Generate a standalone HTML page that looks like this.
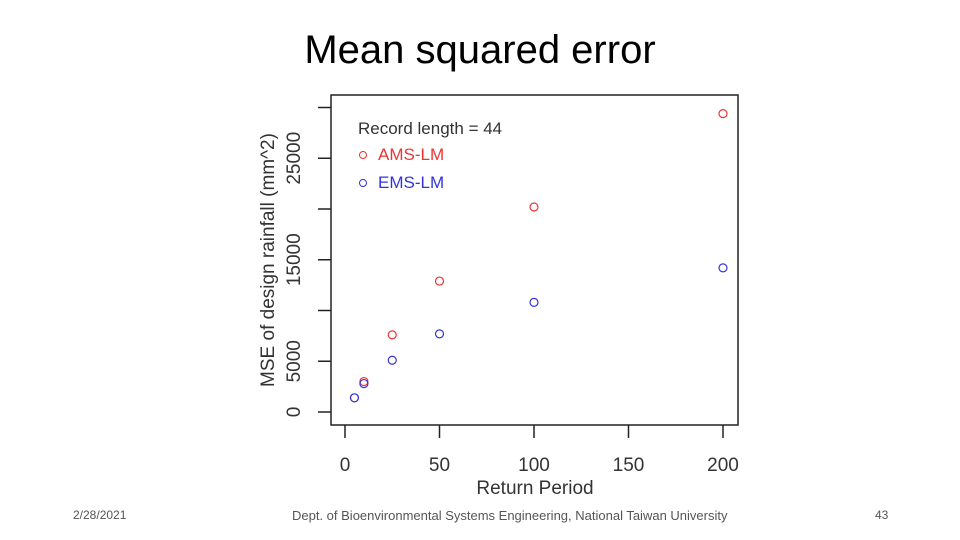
<!DOCTYPE html>
<html><head><meta charset="utf-8"><style>
body{margin:0;width:960px;height:540px;background:#fff;overflow:hidden;font-family:"Liberation Sans",sans-serif;position:relative}
.t{position:absolute;white-space:nowrap}
</style></head><body>
<div class="t" style="left:0;width:960px;text-align:center;top:28px;font-size:40px;color:#000">Mean squared error</div>
<svg width="960" height="540" style="position:absolute;left:0;top:0" font-family="Liberation Sans, sans-serif">
<rect x="331" y="95" width="407" height="330" fill="none" stroke="#222" stroke-width="1.5"/>
<g id="axes"></g><g id="pts"></g>
<text x="358" y="134" font-size="17" fill="#333">Record length =  44</text>
<circle cx="363" cy="155" r="3.5" fill="none" stroke="#e33"/>
<text x="378" y="160" font-size="17" fill="#e33">AMS-LM</text>
<circle cx="363" cy="183" r="3.5" fill="none" stroke="#33d"/>
<text x="378" y="188" font-size="17" fill="#33d">EMS-LM</text>
<text x="535" y="494" text-anchor="middle" font-size="19" fill="#333">Return Period</text>
<text transform="translate(274,260) rotate(-90)" text-anchor="middle" font-size="19" fill="#333">MSE of design rainfall (mm^2)</text>
</svg>
<div class="t" style="left:73px;top:508px;font-size:12px;color:#555">2/28/2021</div>
<div class="t" style="left:292px;top:508px;font-size:13px;color:#555">Dept. of Bioenvironmental Systems Engineering, National Taiwan University</div>
<div class="t" style="left:875px;top:508px;font-size:12px;color:#555">43</div>
<script>
const xTicks=[0,50,100,150,200];
const yTicks=[0,5000,10000,15000,20000,25000,30000];
const yLabels=["0","5000","","15000","","25000",""];
const periods=[5,10,25,50,100,200];
const ams=[1400,3000,7600,12900,20200,29400];
const ems=[1400,2800,5100,7700,10800,14200];
const X=v=>345+v*1.89, Y=v=>412-v*0.01015;
const NS="http://www.w3.org/2000/svg";
const ax=document.getElementById('axes'), pg=document.getElementById('pts');
function mk(tag,at,par){const e=document.createElementNS(NS,tag);for(const k in at)e.setAttribute(k,at[k]);par.appendChild(e);return e;}
xTicks.forEach(v=>{
 const l=mk('line',{x1:X(v),x2:X(v),y1:425,y2:438,stroke:'#222','stroke-width':1.5},ax);
 
 
 const t=mk('text',{x:X(v),y:471,'text-anchor':'middle','font-size':19,fill:'#333'},ax);t.textContent=v;
 
 
});
yTicks.forEach((v,i)=>{
 const l=mk('line',{x1:318,x2:331,y1:Y(v),y2:Y(v),stroke:'#222','stroke-width':1.5},ax);
 
 
 if(yLabels[i]){const t=mk('text',{transform:`translate(300,${Y(v)}) rotate(-90)`,'text-anchor':'middle','font-size':19,fill:'#333'},ax);t.textContent=yLabels[i];
 
 }
});
periods.forEach((p,i)=>{
 const a=mk('circle',{cx:X(p),cy:Y(ams[i]),r:4,fill:'none',stroke:'#e33','stroke-width':1.2},pg);
 
 
 const b=mk('circle',{cx:X(p),cy:Y(ems[i]),r:4,fill:'none',stroke:'#33d','stroke-width':1.2},pg);
 
 
});
</script>
</body></html>
